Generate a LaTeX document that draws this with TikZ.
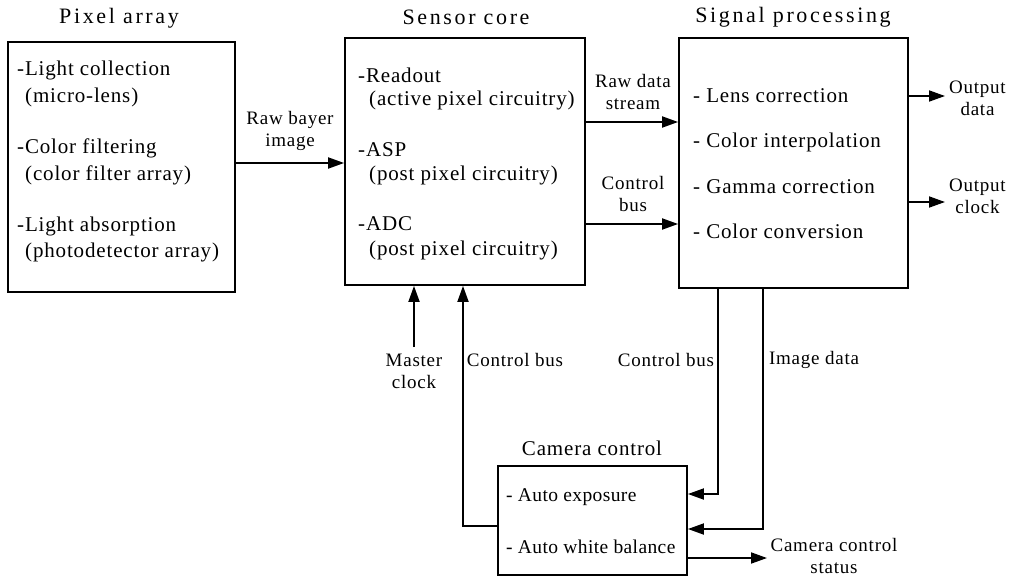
\documentclass[tikz,border=0pt]{standalone}
\usepackage{fontspec}
\setmainfont{Liberation Serif}[LetterSpace=4]
\newfontfamily\ttlfont{Liberation Serif}[LetterSpace=12]
\newfontfamily\ccfont{Liberation Serif}[LetterSpace=2]
\usetikzlibrary{arrows.meta}
\begin{document}
\begin{tikzpicture}[x=1pt,y=-1pt,
  box/.style={draw,line width=1.8pt,inner sep=0,minimum width=#1},
  arr/.style={line width=1.8pt,-{Triangle[length=16pt,width=11pt]}},
  txt/.style={font=\fontsize{21}{24}\selectfont,inner sep=0,anchor=west},
  cctxt/.style={font=\ccfont\fontsize{19.5}{24}\selectfont,inner sep=0,anchor=west},
  lbl/.style={font=\fontsize{19}{22}\selectfont,inner sep=0,align=center},
  ttl/.style={font=\ttlfont\fontsize{22}{25}\selectfont,inner sep=0},
  ccttl/.style={font=\fontsize{21}{25}\selectfont,inner sep=0}]
\useasboundingbox (0,0) rectangle (1022,578);
% boxes
\node[box=227pt,minimum height=250pt] (pa) at (121.5,167) {};
\node[box=240pt,minimum height=247pt] (sc) at (465,161.5) {};
\node[box=229pt,minimum height=250pt] (sp) at (793.5,163) {};
\node[box=189pt,minimum height=109pt] (cc) at (592.5,520.5) {};
% titles
\node[ttl] (tpa) at (119,18) {Pixel array};
\node[ttl] (tsc) at (466,17) {Sensor core};
\node[ttl] (tsp) at (793,17) {Signal processing};
\node[ccttl] (tcc) at (592,448) {Camera control};
% pixel array items
\node[txt] (p1) at (17,70) {-Light collection};
\node[txt] (p1b) at (25,97) {(micro-lens)};
\node[txt] (p2) at (17,148) {-Color filtering};
\node[txt] (p2b) at (25,175) {(color filter array)};
\node[txt] (p3) at (17,226) {-Light absorption};
\node[txt] (p3b) at (25,252) {(photodetector array)};
% sensor core items
\node[txt] (s1) at (358,75) {-Readout};
\node[txt] (s1b) at (369,100) {(active pixel circuitry)};
\node[txt] (s2) at (358,150) {-ASP};
\node[txt] (s2b) at (369,175) {(post pixel circuitry)};
\node[txt] (s3) at (358,224) {-ADC};
\node[txt] (s3b) at (369,250) {(post pixel circuitry)};
% signal processing items
\node[txt] (q1) at (693,96) {- Lens correction};
\node[txt] (q2) at (693,142) {- Color interpolation};
\node[txt] (q3) at (693,187) {- Gamma correction};
\node[txt] (q4) at (693,231) {- Color conversion};
% camera control items
\node[cctxt] (c1) at (506,497) {- Auto exposure};
\node[cctxt] (c2) at (506,547) {- Auto white balance};
% labels
\node[lbl] (lraw) at (290,131) {Raw bayer\\image};
\node[lbl] (lrds) at (633,92) {Raw data\\stream};
\node[lbl] (lcb1) at (633,194) {Control\\bus};
\node[lbl,anchor=west] (lod) at (949,98) {Output\\data};
\node[lbl,anchor=west] (loc) at (949,196) {Output\\clock};
\node[lbl] (lmc) at (414,371) {Master\\clock};
\node[lbl] (lcb2) at (515,360) {Control bus};
\node[lbl] (lcb3) at (666,360) {Control bus};
\node[lbl] (lid) at (814,360) {Image data};
\node[lbl] (lccs) at (834,556) {Camera control\\status};
% coordinates
\coordinate (kod) at (945,96);
\coordinate (koc) at (945,202);
\coordinate (kccs) at (767,558);
\coordinate (kmc) at (414,347);
\coordinate (kcb) at (463,526);
\coordinate (kcb3) at (718,494);
\coordinate (kid) at (763,529);
% connectors
\draw[arr] (pa.east |- 0,163) -- (sc.west |- 0,163);
\draw[arr] (sc.east |- 0,122) -- (sp.west |- 0,122);
\draw[arr] (sc.east |- 0,224) -- (sp.west |- 0,224);
\draw[arr] (sp.east |- kod) -- (kod);
\draw[arr] (sp.east |- koc) -- (koc);
\draw[arr] (kmc) -- (kmc |- sc.south);
\draw[arr] (cc.west |- kcb) -| (kcb |- sc.south);
\draw[arr] (kcb3 |- sp.south) |- (cc.east |- kcb3);
\draw[arr] (kid |- sp.south) |- (cc.east |- kid);
\draw[arr] (cc.east |- kccs) -- (kccs);
\end{tikzpicture}
\end{document}
